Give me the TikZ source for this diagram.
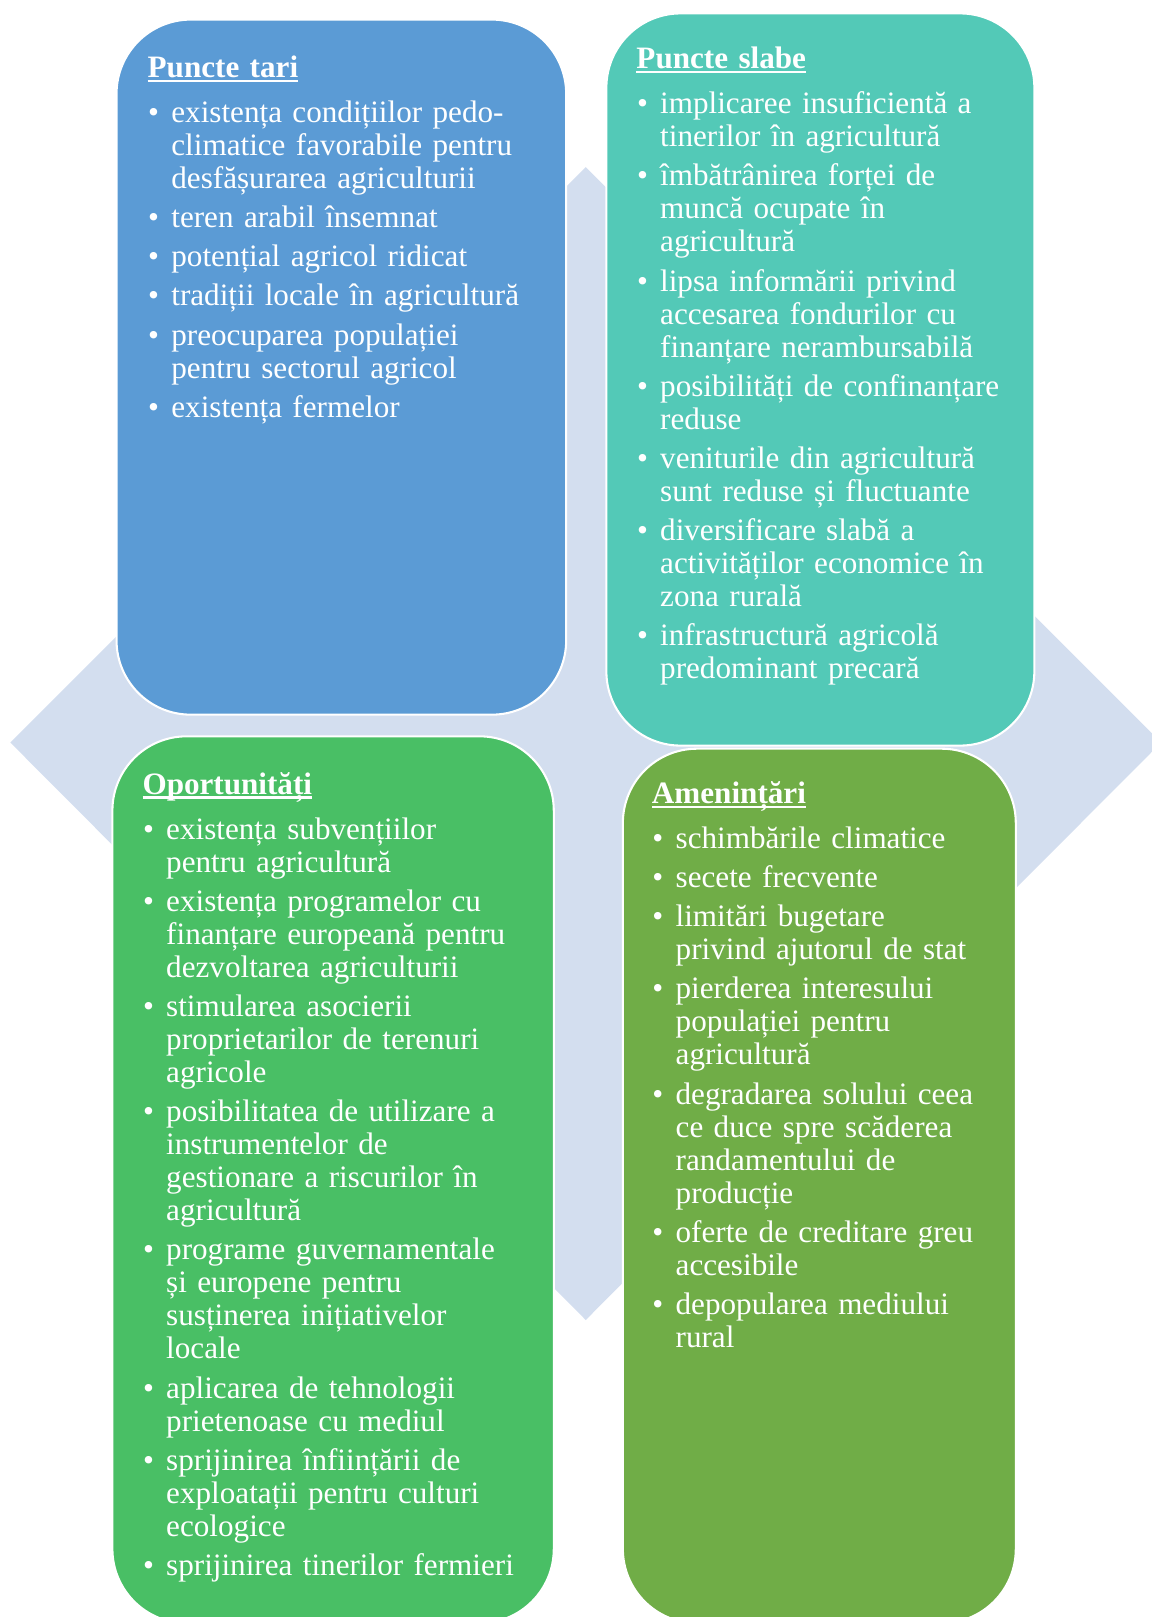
\documentclass[tikz,border=0pt]{standalone}
\usepackage{fontspec}
\setmainfont{Liberation Serif}
\definecolor{cblue}{HTML}{5B9BD5}
\definecolor{cteal}{HTML}{53C9B7}
\definecolor{cgreen}{HTML}{49BF65}
\definecolor{colive}{HTML}{70AD47}
\definecolor{cdiam}{HTML}{D3DEEF}
\newcommand\ulttl[1]{\setbox0\hbox{\bfseries #1}\rlap{\rule[-4.5pt]{\wd0}{2.4pt}}\box0}
\newcommand\ttl[1]{\noindent\rule{0pt}{24pt}\ulttl{#1}\par\vspace{5.5pt}}
\newcommand\itm[1]{\par\vspace{6pt}\noindent\makebox[23pt][l]{\hspace{0.5pt}•}#1}
\newcommand\cnt[1]{\par\noindent\hspace*{23pt}#1}
\tikzset{
  box/.style={draw=white, line width=2pt, rounded corners=72pt, rectangle, anchor=north west, inner sep=0pt},
  txt/.style={anchor=north west, inner sep=0pt, text width=470pt, text=white, font=\fontsize{30.2}{32}\selectfont}
}
\begin{document}
\begin{tikzpicture}[x=1pt,y=-1pt]
\useasboundingbox (0,0) rectangle (1117,1568);
\clip (0,0) rectangle (1117,1568);
\fill[cdiam] (568,162) -- (1126,720) -- (568,1280) -- (10,720) -- cycle;
\node[box, fill=cblue, minimum width=436pt, minimum height=674pt] (b1) at (112,18) {};
\node[box, fill=cteal, minimum width=415pt, minimum height=710pt] (b2) at (587,12) {};
\node[box, fill=cgreen, minimum width=428pt, minimum height=860pt] (b3) at (108,713) {};
\node[box, fill=colive, minimum width=381pt, minimum height=848pt] (b4) at (603,725) {};
\node[txt] (t1) at (143,51) {\ttl{Puncte tari}
\itm{existența condițiilor pedo-}\cnt{climatice favorabile pentru}\cnt{desfășurarea agriculturii}
\itm{teren arabil însemnat}
\itm{potențial agricol ridicat}
\itm{tradiții locale în agricultură}
\itm{preocuparea populației}\cnt{pentru sectorul agricol}
\itm{existența fermelor}};
\node[txt] (t2) at (617,42.5) {\ttl{Puncte slabe}
\itm{implicaree insuficientă a}\cnt{tinerilor în agricultură}
\itm{îmbătrânirea forței de}\cnt{muncă ocupate în}\cnt{agricultură}
\itm{lipsa informării privind}\cnt{accesarea fondurilor cu}\cnt{finanțare nerambursabilă}
\itm{posibilități de confinanțare}\cnt{reduse}
\itm{veniturile din agricultură}\cnt{sunt reduse și fluctuante}
\itm{diversificare slabă a}\cnt{activităților economice în}\cnt{zona rurală}
\itm{infrastructură agricolă}\cnt{predominant precară}};
\node[txt] (t3) at (138,746) {\ttl{Oportunități}
\itm{existența subvențiilor}\cnt{pentru agricultură}
\itm{existența programelor cu}\cnt{finanțare europeană pentru}\cnt{dezvoltarea agriculturii}
\itm{stimularea asocierii}\cnt{proprietarilor de terenuri}\cnt{agricole}
\itm{posibilitatea de utilizare a}\cnt{instrumentelor de}\cnt{gestionare a riscurilor în}\cnt{agricultură}
\itm{programe guvernamentale}\cnt{și europene pentru}\cnt{susținerea inițiativelor}\cnt{locale}
\itm{aplicarea de tehnologii}\cnt{prietenoase cu mediul}
\itm{sprijinirea înființării de}\cnt{exploatații pentru culturi}\cnt{ecologice}
\itm{sprijinirea tinerilor fermieri}};
\node[txt] (t4) at (632,755) {\ttl{Amenințări}
\itm{schimbările climatice}
\itm{secete frecvente}
\itm{limitări bugetare}\cnt{privind ajutorul de stat}
\itm{pierderea interesului}\cnt{populației pentru}\cnt{agricultură}
\itm{degradarea solului ceea}\cnt{ce duce spre scăderea}\cnt{randamentului de}\cnt{producție}
\itm{oferte de creditare greu}\cnt{accesibile}
\itm{depopularea mediului}\cnt{rural}};
\end{tikzpicture}
\end{document}
